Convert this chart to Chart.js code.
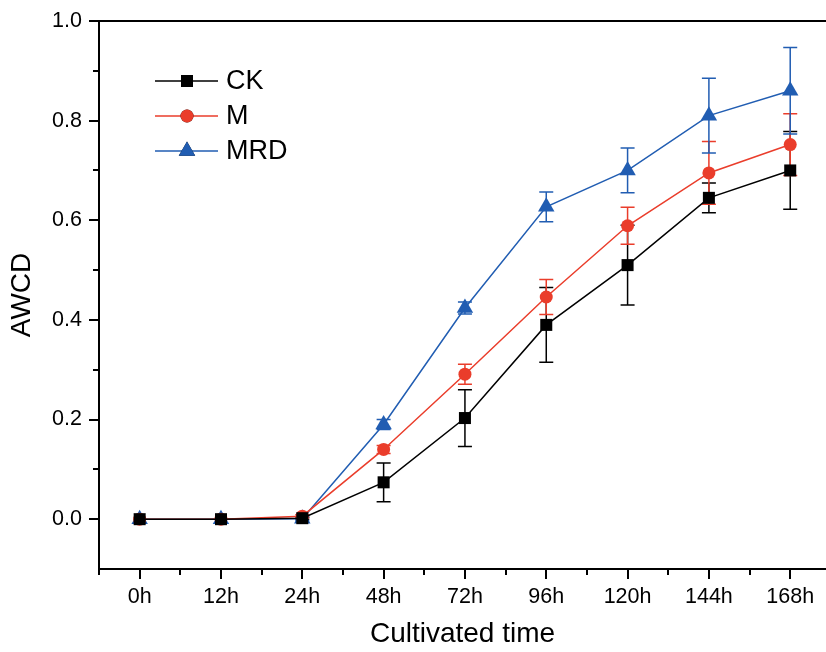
<!DOCTYPE html>
<html>
<head>
<meta charset="utf-8">
<script src="https://cdn.jsdelivr.net/npm/chart.js@4"></script>
<style>
  html, body { margin: 0; padding: 0; background: #fff; }
  #wrap { width: 826px; height: 652px; }
</style>
</head>
<body>
<div id="wrap"><canvas id="awcdChart" width="826" height="652"></canvas></div>
<script>
const timeLabels = ['0h', '12h', '24h', '48h', '72h', '96h', '120h', '144h', '168h'];
const ckMean = [0, 0, 0.002, 0.074, 0.203, 0.39, 0.51, 0.645, 0.70];
const ckErr = [0, 0, 0.002, 0.039, 0.057, 0.075, 0.08, 0.03, 0.078];
const mMean = [0, 0, 0.006, 0.14, 0.291, 0.446, 0.589, 0.695, 0.752];
const mErr = [0, 0, 0.003, 0.008, 0.02, 0.035, 0.037, 0.063, 0.062];
const mrdMean = [0, 0, 0.001, 0.19, 0.424, 0.627, 0.70, 0.81, 0.86];
const mrdErr = [0, 0, 0.004, 0.01, 0.012, 0.03, 0.045, 0.075, 0.087];
const yTicks = [0, 0.2, 0.4, 0.6, 0.8, 1.0];

const black = '#000000';
const red = '#ea3d2b';
const blue = '#215db2';
const fontFam = '"Liberation Sans", Arial, sans-serif';

function series(label, mean, err, color, style, radius) {
  return {
    label: label,
    data: mean.map((v, i) => ({ x: i, y: v })),
    err: err,
    borderColor: color,
    backgroundColor: color,
    borderWidth: 1.5,
    pointStyle: style,
    pointRadius: radius,
    pointHoverRadius: radius,
    pointBorderWidth: 0,
    tension: 0,
    clip: false
  };
}

// error bars drawn under the markers
const errorBars = {
  id: 'errorBars',
  beforeDatasetsDraw(chart) {
    const ctx = chart.ctx;
    const xs = chart.scales.x, ys = chart.scales.y;
    ctx.save();
    chart.data.datasets.forEach(ds => {
      ctx.strokeStyle = ds.borderColor;
      ctx.lineWidth = 1.5;
      ds.data.forEach((p, i) => {
        const e = ds.err[i];
        if (!e) return;
        const x = xs.getPixelForValue(p.x);
        const y1 = ys.getPixelForValue(p.y + e);
        const y2 = ys.getPixelForValue(p.y - e);
        ctx.beginPath();
        ctx.moveTo(x, y1); ctx.lineTo(x, y2);
        ctx.moveTo(x - 7, y1); ctx.lineTo(x + 7, y1);
        ctx.moveTo(x - 7, y2); ctx.lineTo(x + 7, y2);
        ctx.stroke();
      });
    });
    ctx.restore();
  }
};

// axis frame, major/minor ticks and the legend box
const frame = {
  id: 'frame',
  afterDraw(chart) {
    const ctx = chart.ctx;
    const a = chart.chartArea;
    const xs = chart.scales.x, ys = chart.scales.y;
    ctx.save();
    ctx.strokeStyle = black;
    ctx.lineWidth = 2;
    ctx.beginPath();
    ctx.moveTo(a.left, a.top); ctx.lineTo(a.right, a.top);
    ctx.moveTo(a.left, a.top - 1); ctx.lineTo(a.left, a.bottom + 1);
    ctx.moveTo(a.left - 1, a.bottom); ctx.lineTo(a.right, a.bottom);
    // y ticks
    for (let v = -0.1; v <= 1.001; v += 0.1) {
      const y = Math.round(ys.getPixelForValue(v));
      if (y > a.bottom - 2) continue;
      const major = Math.round(v * 10) % 2 === 0;
      ctx.moveTo(a.left, y); ctx.lineTo(a.left - (major ? 10 : 6), y);
    }
    // x ticks
    for (let v = -0.5; v <= xs.max; v += 0.5) {
      const x = Math.round(xs.getPixelForValue(v));
      const major = Number.isInteger(v);
      ctx.moveTo(x, a.bottom); ctx.lineTo(x, a.bottom + (major ? 10 : 6));
    }
    ctx.stroke();

    // legend
    const items = chart.data.datasets;
    ctx.font = '27px ' + fontFam;
    ctx.textBaseline = 'middle';
    items.forEach((ds, i) => {
      const y = 81 + i * 35;
      ctx.strokeStyle = ds.borderColor;
      ctx.lineWidth = 1.5;
      ctx.beginPath();
      ctx.moveTo(155, y); ctx.lineTo(218, y);
      ctx.stroke();
      Chart.helpers.drawPoint(ctx, {
        pointStyle: ds.pointStyle, radius: ds.pointRadius, borderWidth: 0, rotation: 0
      }, 187, y);
      ctx.fillStyle = ds.backgroundColor;
      ctx.fill();
      ctx.fillStyle = black;
      ctx.fillText(ds.label, 226, y + 1);
    });
    ctx.restore();
  }
};

new Chart(document.getElementById('awcdChart'), {
  type: 'line',
  data: {
    datasets: [
      series('CK', ckMean, ckErr, black, 'rect', 8.5),
      series('M', mMean, mErr, red, 'circle', 6.5),
      series('MRD', mrdMean, mrdErr, blue, 'triangle', 9.5)
    ]
  },
  options: {
    responsive: false,
    animation: false,
    layout: { autoPadding: false, padding: { top: 21, right: 0, left: 0, bottom: 0 } },
    plugins: { legend: { display: false }, tooltip: { enabled: false } },
    scales: {
      x: {
        type: 'linear',
        min: -0.5,
        max: 8.44,
        grid: { display: false },
        border: { display: false },
        afterBuildTicks: s => { s.ticks = timeLabels.map((_, i) => ({ value: i })); },
        afterFit: s => { s.height = 83; s.paddingLeft = 0; s.paddingRight = 0; },
        ticks: {
          padding: 7,
          color: black,
          font: { family: fontFam, size: 21.5 },
          maxRotation: 0,
          autoSkip: false,
          callback: v => timeLabels[v] ?? ''
        },
        title: {
          display: true,
          text: 'Cultivated time',
          color: black,
          font: { family: fontFam, size: 28 },
          padding: { top: 0, bottom: 1 }
        }
      },
      y: {
        min: -0.1,
        max: 1.0,
        grid: { display: false },
        border: { display: false },
        afterBuildTicks: s => { s.ticks = yTicks.map(v => ({ value: v })); },
        afterFit: s => { s.width = 99; s.paddingTop = 0; s.paddingBottom = 0; },
        ticks: {
          padding: 9,
          color: black,
          font: { family: fontFam, size: 21.5 },
          callback: v => v.toFixed(1)
        },
        title: {
          display: true,
          text: 'AWCD',
          color: black,
          font: { family: fontFam, size: 28 },
          padding: { top: 5, bottom: 0 }
        }
      }
    }
  },
  plugins: [errorBars, frame]
});
</script>
</body>
</html>
